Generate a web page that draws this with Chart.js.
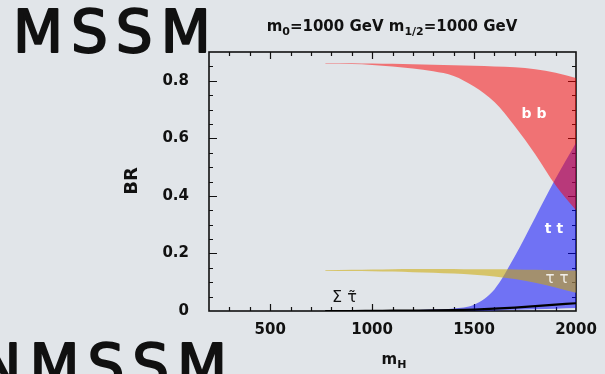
<!DOCTYPE html>
<html>
<head>
<meta charset="utf-8">
<script src="https://cdn.jsdelivr.net/npm/chart.js@4/dist/chart.umd.min.js"></script>
<style>
  html, body { margin: 0; padding: 0; background: #e1e5e9; }
  #br { position: absolute; left: 0; top: 0; }
</style>
</head>
<body>
<canvas id="br" width="605" height="374"></canvas>
<script>
// Values ---------------------------------------------------------------------------------------------------------------
var massH      = [770, 900, 1000, 1100, 1200, 1300, 1400, 1500, 1600, 1700, 1800, 1900, 2000];
var bbHigh     = [0.862, 0.861, 0.860, 0.859, 0.857, 0.856, 0.854, 0.852, 0.850, 0.847, 0.840, 0.828, 0.810];
var bbLow      = [0.860, 0.858, 0.855, 0.850, 0.843, 0.833, 0.817, 0.780, 0.726, 0.642, 0.545, 0.437, 0.350];
var ttHigh     = [0.000, 0.000, 0.001, 0.002, 0.003, 0.005, 0.009, 0.022, 0.075, 0.190, 0.325, 0.460, 0.585];
var ttLow      = [0.000, 0.000, 0.000, 0.000, 0.000, 0.000, 0.000, 0.000, 0.002, 0.004, 0.006, 0.008, 0.010];
var tautauHigh = [0.142, 0.143, 0.144, 0.145, 0.146, 0.146, 0.146, 0.145, 0.145, 0.144, 0.143, 0.142, 0.141];
var tautauLow  = [0.139, 0.139, 0.138, 0.137, 0.135, 0.133, 0.130, 0.126, 0.120, 0.111, 0.098, 0.082, 0.063];
var staus      = [0.000, 0.000, 0.0005, 0.001, 0.0015, 0.002, 0.003, 0.005, 0.008, 0.012, 0.017, 0.022, 0.027];

var xTicks = [500, 1000, 1500, 2000];
var yTicks = [0, 0.2, 0.4, 0.6, 0.8];

function pts(vals) {
    return massH.map(function (m, i) { return {x: m, y: vals[i]}; });
}

// Band helper: upper edge fills down to the next dataset (its lower edge)
function band(label, hi, lo, color) {
    var common = {pointRadius: 0, borderWidth: 0, borderColor: 'rgba(0,0,0,0)', cubicInterpolationMode: 'monotone'};
    return [
        Object.assign({label: label, data: pts(hi), fill: '+1', backgroundColor: color}, common),
        Object.assign({label: label + ' low', data: pts(lo), fill: false}, common)
    ];
}

var SANS = "'DejaVu Sans', sans-serif";

// Text with subscripts: parts = [[text, isSub], ...]
function richText(ctx, parts, cx, base, size) {
    var w = 0;
    parts.forEach(function (p) {
        ctx.font = 'bold ' + (p[1] ? Math.round(size * 0.72) : size) + 'px ' + SANS;
        w += ctx.measureText(p[0]).width;
    });
    var x = cx - w / 2;
    ctx.textAlign = 'left';
    ctx.textBaseline = 'alphabetic';
    parts.forEach(function (p) {
        ctx.font = 'bold ' + (p[1] ? Math.round(size * 0.72) : size) + 'px ' + SANS;
        ctx.fillText(p[0], x, p[1] ? base + 4 : base);
        x += ctx.measureText(p[0]).width;
    });
}

// Frame with inward ticks (drawn under the bands)
var framePlugin = {
    id: 'frame',
    beforeDraw: function (chart) {
        var ctx = chart.ctx, a = chart.chartArea;
        var xs = chart.scales.x, ys = chart.scales.y;
        ctx.save();
        ctx.strokeStyle = '#111';
        ctx.lineWidth = 1.2;
        for (var v = 300; v < 2000; v += 100) {
            var px = Math.round(xs.getPixelForValue(v)) + 0.5;
            var len = (v % 500 === 0) ? 7 : 4;
            ctx.beginPath();
            ctx.moveTo(px, a.bottom); ctx.lineTo(px, a.bottom - len);
            ctx.moveTo(px, a.top); ctx.lineTo(px, a.top + len);
            ctx.stroke();
        }
        for (var k = 1; k < 18; k++) {
            var py = Math.round(ys.getPixelForValue(k * 0.05)) + 0.5;
            var l2 = (k % 4 === 0) ? 8 : 4;
            ctx.beginPath();
            ctx.moveTo(a.left, py); ctx.lineTo(a.left + l2, py);
            ctx.moveTo(a.right, py); ctx.lineTo(a.right - l2, py);
            ctx.stroke();
        }
        ctx.lineWidth = 1.6;
        ctx.strokeRect(a.left, a.top, a.right - a.left, a.bottom - a.top);
        ctx.restore();
    },
    afterDraw: function (chart) {
        var ctx = chart.ctx;
        ctx.save();
        ctx.fillStyle = '#111';
        ctx.strokeStyle = '#111';
        ctx.lineWidth = 2;
        ctx.lineJoin = 'round';
        // slide headings
        ctx.font = '58px ' + SANS;
        ctx.letterSpacing = '8px';
        ctx.textAlign = 'left';
        ctx.textBaseline = 'alphabetic';
        ctx.fillText('MSSM', 13, 52);
        ctx.strokeText('MSSM', 13, 52);
        ctx.fillText('NMSSM', -22, 386);
        ctx.strokeText('NMSSM', -22, 386);
        ctx.letterSpacing = '0px';

        // title and axis titles
        richText(ctx, [['m', 0], ['0', 1], ['=1000 GeV m', 0], ['1/2', 1], ['=1000 GeV', 0]], 392, 31, 15);
        richText(ctx, [['m', 0], ['H', 1]], 394, 364, 15);
        ctx.save();
        ctx.translate(137, 181);
        ctx.rotate(-Math.PI / 2);
        ctx.font = 'bold 18px ' + SANS;
        ctx.textAlign = 'center';
        ctx.fillText('BR', 0, 0);
        ctx.restore();

        // labels on the bands
        ctx.textAlign = 'center';
        ctx.fillStyle = '#fff';
        ctx.font = 'bold 14px ' + SANS;
        ctx.fillText('b b', 534, 118);
        ctx.fillText('t t', 554, 233);
        ctx.fillStyle = 'rgba(255,255,255,0.85)';
        ctx.font = '15px ' + SANS;
        ctx.fillText('τ τ', 557, 283);
        ctx.fillStyle = '#111';
        ctx.font = '16px ' + SANS;
        ctx.textAlign = 'left';
        ctx.fillText('Σ τ̃', 332, 302);
        ctx.restore();
    }
};

var brCanvas = document.getElementById('br').getContext('2d');
var brData = {
    // staus line first so it is drawn on top of the bands
    datasets: [{label: 'staus', data: pts(staus), fill: false, borderColor: '#000', borderWidth: 2.2, pointRadius: 0, cubicInterpolationMode: 'monotone'}]
        .concat(band('bb', bbHigh, bbLow, 'rgba(255,0,0,0.5)'))
        .concat(band('tautau', tautauHigh, tautauLow, 'rgba(205,170,0,0.55)'))
        .concat(band('tt', ttHigh, ttLow, 'rgba(0,0,255,0.5)'))
};
var brOptions = {
    responsive: false,
    animation: false,
    layout: {padding: {left: 0, right: 29, top: 52, bottom: 0}},
    plugins: {legend: {display: false}, tooltip: {enabled: false}},
    scales: {
        x: {
            type: 'linear', min: 200, max: 2000,
            grid: {display: false}, border: {display: false},
            afterBuildTicks: function (s) { s.ticks = xTicks.map(function (v) { return {value: v}; }); },
            afterFit: function (s) { s.height = 63; },
            ticks: {
                color: '#111', padding: 2, maxRotation: 0,
                font: {family: 'DejaVu Sans', weight: 'bold', size: 15},
                callback: function (v) { return String(v); }
            }
        },
        y: {
            type: 'linear', min: 0, max: 0.9,
            grid: {display: false}, border: {display: false},
            afterBuildTicks: function (s) { s.ticks = yTicks.map(function (v) { return {value: v}; }); },
            afterFit: function (s) { s.width = 209; },
            ticks: {color: '#111', padding: 12, font: {family: 'DejaVu Sans', weight: 'bold', size: 15}}
        }
    }
};
var brChart = new Chart(brCanvas, {
    type: 'line',
    data: brData,
    options: brOptions,
    plugins: [framePlugin]
});
</script>
</body>
</html>
